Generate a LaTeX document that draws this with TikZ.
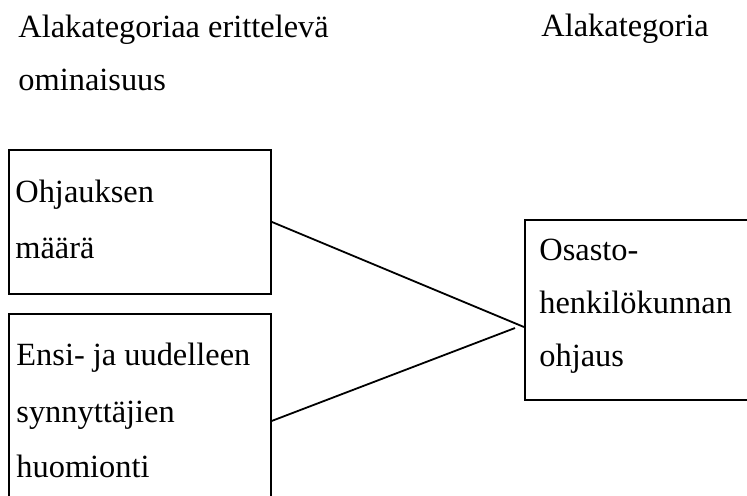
\documentclass[tikz,border=0pt]{standalone}
\usepackage{fontspec}
\setmainfont{Liberation Serif}
\begin{document}
\begin{tikzpicture}[x=0.5pt,y=-0.5pt,
  box/.style={draw, line width=0.9pt, inner sep=0pt, anchor=north west},
  lbl/.style={anchor=base west, inner sep=0pt, font=\fontsize{16.2}{19}\selectfont},
  link/.style={line width=0.9pt}]
\useasboundingbox (0,0) rectangle (747,495);
\clip (0,0) rectangle (747,495);

% column headings
\node[lbl] (h1) at (18,37) {Alakategoriaa erittelevä};
\node[lbl] (h2) at (18,90) {ominaisuus};
\node[lbl] (h3) at (541,36) {Alakategoria};

% boxes (the lower left and the right one run past the page edge)
\node[box, minimum width=131pt, minimum height=72pt] (b1) at (8,149) {};
\node[box, minimum width=131pt, minimum height=107pt] (b2) at (8,313) {};
\node[box, minimum width=130pt, minimum height=90pt] (b3) at (524,219) {};

% box texts
\node[lbl] (t11) at (15,202) {Ohjauksen};
\node[lbl] (t12) at (15,258) {määrä};
\node[lbl] (t21) at (16,365) {Ensi- ja uudelleen};
\node[lbl] (t22) at (16,422) {synnyttäjien};
\node[lbl] (t23) at (16,477) {huomionti};
\node[lbl] (t31) at (539,260) {Osasto-};
\node[lbl] (t32) at (539,313) {henkilökunnan};
\node[lbl] (t33) at (539,366) {ohjaus};

% connectors
\coordinate (j1) at (524,327);
\coordinate (j2) at (515,328);
\draw[link] (b1.east) -- (j1);
\draw[link] (b2.east) -- (j2);
\end{tikzpicture}
\end{document}
